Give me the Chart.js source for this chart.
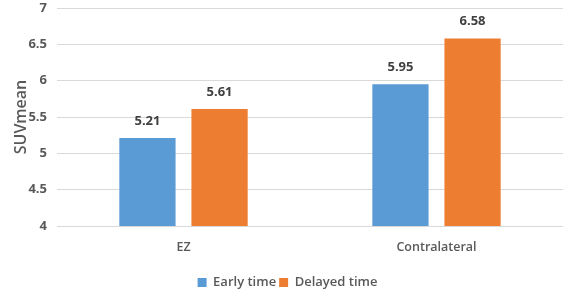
<!DOCTYPE html>
<html>
<head>
<meta charset="utf-8">
<script src="https://cdn.jsdelivr.net/npm/chart.js@4.4.0/dist/chart.umd.min.js"></script>
<style>
html,body{margin:0;padding:0;background:#fff;}
#wrap{width:567px;height:292px;position:relative;}
</style>
</head>
<body>
<div id="wrap"><canvas id="c"></canvas></div>
<script>
const categories = ["EZ", "Contralateral"];
const earlyTime = [5.21, 5.95];
const delayedTime = [5.61, 6.58];
const seriesNames = ["Early time", "Delayed time"];
const yTicks = [4, 4.5, 5, 5.5, 6, 6.5, 7];

const FONT = "'Open Sans', 'Liberation Sans', sans-serif";
const GREY = "#595959";

const valueLabels = {
  id: "valueLabels",
  afterDatasetsDraw(chart) {
    const ctx = chart.ctx;
    ctx.save();
    ctx.font = "bold 13px " + FONT;
    ctx.fillStyle = "#404040";
    ctx.textAlign = "center";
    ctx.textBaseline = "middle";
    chart.data.datasets.forEach((ds, i) => {
      chart.getDatasetMeta(i).data.forEach((el, j) => {
        ctx.fillText(ds.data[j].toFixed(2), el.x, el.y - 17);
      });
    });
    ctx.restore();
  }
};

new Chart(document.getElementById("c"), {
  type: "bar",
  data: {
    labels: categories,
    datasets: [
      { label: seriesNames[0], data: earlyTime, backgroundColor: "#5B9BD5",
        barPercentage: 0.78, categoryPercentage: 0.57 },
      { label: seriesNames[1], data: delayedTime, backgroundColor: "#ED7D31",
        barPercentage: 0.78, categoryPercentage: 0.57 }
    ]
  },
  options: {
    responsive: true,
    maintainAspectRatio: false,
    animation: false,
    layout: { padding: { left: 12, right: 4, top: 8, bottom: -7 } },
    plugins: {
      legend: {
        position: "bottom",
        labels: {
          boxWidth: 9, boxHeight: 9, padding: 3,
          color: GREY,
          font: { family: FONT, size: 13, weight: "600" }
        }
      },
      tooltip: { enabled: false }
    },
    scales: {
      x: {
        grid: { display: false, drawTicks: false },
        border: { display: false },
        afterFit(scale) { scale.height = 47; },
        ticks: { color: GREY, padding: 14, font: { family: FONT, size: 12.5, weight: "600" } }
      },
      y: {
        min: 4, max: 7,
        afterBuildTicks(scale) { scale.ticks = yTicks.map(v => ({ value: v })); },
        afterFit(scale) { scale.width = 45; scale.paddingTop = 0; scale.paddingBottom = 0; },
        grid: { color: "#d9d9d9", drawTicks: false, lineWidth: 1 },
        border: { display: false },
        ticks: { color: GREY, padding: 10, font: { family: FONT, size: 13, weight: "bold" },
                 callback: v => String(v) },
        title: { display: true, text: "SUVmean", color: GREY, padding: 0,
                 font: { family: FONT, size: 16, weight: "600" } }
      }
    }
  },
  plugins: [valueLabels]
});
</script>
</body>
</html>
